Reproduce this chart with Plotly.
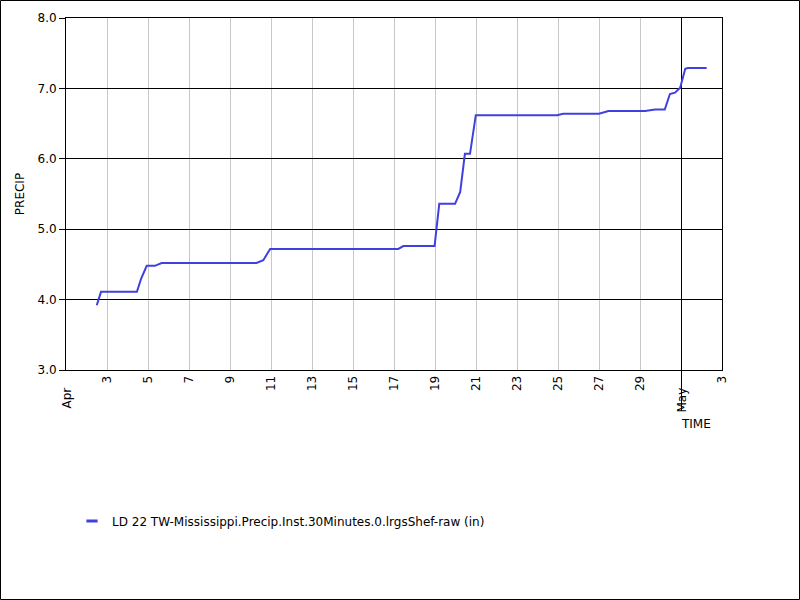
import plotly.graph_objects as go

# ---- data ----
times = [
    "2023-04-02 12:00", "2023-04-02 17:00", "2023-04-04 11:00", "2023-04-04 16:00",
    "2023-04-04 22:30", "2023-04-05 08:00", "2023-04-05 16:00", "2023-04-10 07:00",
    "2023-04-10 15:00", "2023-04-10 23:00", "2023-04-17 05:00", "2023-04-17 11:00",
    "2023-04-18 23:30", "2023-04-19 05:00", "2023-04-19 23:30", "2023-04-20 05:30",
    "2023-04-20 11:00", "2023-04-20 17:00", "2023-04-20 23:45", "2023-04-24 23:00",
    "2023-04-25 06:00", "2023-04-27 00:00", "2023-04-27 11:00", "2023-04-29 06:00",
    "2023-04-29 17:30", "2023-04-30 05:00", "2023-04-30 11:00", "2023-04-30 17:00",
    "2023-04-30 23:00", "2023-05-01 05:00", "2023-05-01 08:00", "2023-05-02 06:00",
]
precip = [
    3.92, 4.11, 4.11, 4.30,
    4.48, 4.48, 4.52, 4.52,
    4.56, 4.72, 4.72, 4.76,
    4.76, 5.36, 5.36, 5.53,
    6.07, 6.07, 6.62, 6.62,
    6.64, 6.64, 6.68, 6.68,
    6.70, 6.70, 6.92, 6.94,
    7.01, 7.28, 7.29, 7.29,
]

day_ticks = ["2023-04-%02d" % d for d in range(3, 30, 2)] + ["2023-05-03"]
day_labels = [str(d) for d in range(3, 30, 2)] + ["3"]
month_ticks = ["2023-04-01", "2023-05-01"]
month_labels = ["Apr", "May"]
y_ticks = [3.0, 4.0, 5.0, 6.0, 7.0, 8.0]

series_name = "LD 22 TW-Mississippi.Precip.Inst.30Minutes.0.lrgsShef-raw (in)"
line_color = "#4040e0"
FONT = "DejaVu Sans"

fig = go.Figure()
fig.add_trace(go.Scatter(
    x=times, y=precip, mode="lines",
    line=dict(color=line_color, width=2),
    showlegend=False, name=series_name,
))
# legend entry (short line glyph)
fig.add_trace(go.Scatter(
    x=[None], y=[None], mode="markers",
    marker=dict(symbol="line-ew-open", size=8, color=line_color,
                line=dict(color=line_color, width=3)),
    name=series_name, showlegend=True,
))

for t, lab in zip(month_ticks, month_labels):
    fig.add_annotation(
        x=t, xref="x", y=0, yref="paper", text=lab, showarrow=False,
        textangle=-90, xanchor="center", yanchor="top", yshift=-16,
        font=dict(family=FONT, size=12, color="black"),
    )

fig.add_annotation(
    x=month_ticks[1], xref="x", y=0, yref="paper", text="TIME", showarrow=False,
    xanchor="left", yanchor="middle", yshift=-54, xshift=-2,
    font=dict(family=FONT, size=12, color="black"),
)

# outer border of the image
fig.add_shape(
    type="rect", xref="paper", yref="paper",
    x0=(0.5 - 66) / 656, x1=(799.5 - 66) / 656,
    y0=(370 - 599.5) / 352, y1=(370 - 0.5) / 352,
    line=dict(color="black", width=1), fillcolor="rgba(0,0,0,0)",
)

fig.update_layout(
    width=800, height=600,
    margin=dict(l=66, r=78, t=18, b=230, autoexpand=False),
    paper_bgcolor="white", plot_bgcolor="white",
    font=dict(family=FONT, size=12, color="black"),
    showlegend=True,
    legend=dict(
        x=(72 - 66) / 656, xanchor="left",
        y=(370 - 521) / 352, yanchor="middle",
        orientation="h", bgcolor="rgba(0,0,0,0)",
        font=dict(family=FONT, size=12, color="black"),
    ),
    xaxis=dict(
        type="date", range=["2023-04-01", "2023-05-03"],
        tickmode="array", tickvals=day_ticks, ticktext=day_labels,
        tickangle=-90, ticks="", showgrid=True, gridcolor="#c8c8c8", gridwidth=1,
        showline=True, mirror=True, linecolor="black", linewidth=1,
        zeroline=False,
        minor=dict(tickmode="array", tickvals=[month_ticks[1]], ticks="outside",
                   ticklen=40, tickcolor="black", tickwidth=1,
                   showgrid=True, gridcolor="black", gridwidth=1),
        tickfont=dict(family=FONT, size=12, color="black"),
    ),
    yaxis=dict(
        range=[3, 8], tickmode="array", tickvals=y_ticks, tickformat=".1f",
        ticks="outside", ticklen=6, tickcolor="black",
        showgrid=True, gridcolor="black", gridwidth=1,
        showline=True, mirror=True, linecolor="black", linewidth=1,
        zeroline=False,
        title=dict(text="PRECIP", standoff=10, font=dict(family=FONT, size=12, color="black")),
        tickfont=dict(family=FONT, size=12, color="black"),
    ),
)

fig.write_html("out.html", config={"displayModeBar": False},
               post_script="document.body.style.margin='0';")
